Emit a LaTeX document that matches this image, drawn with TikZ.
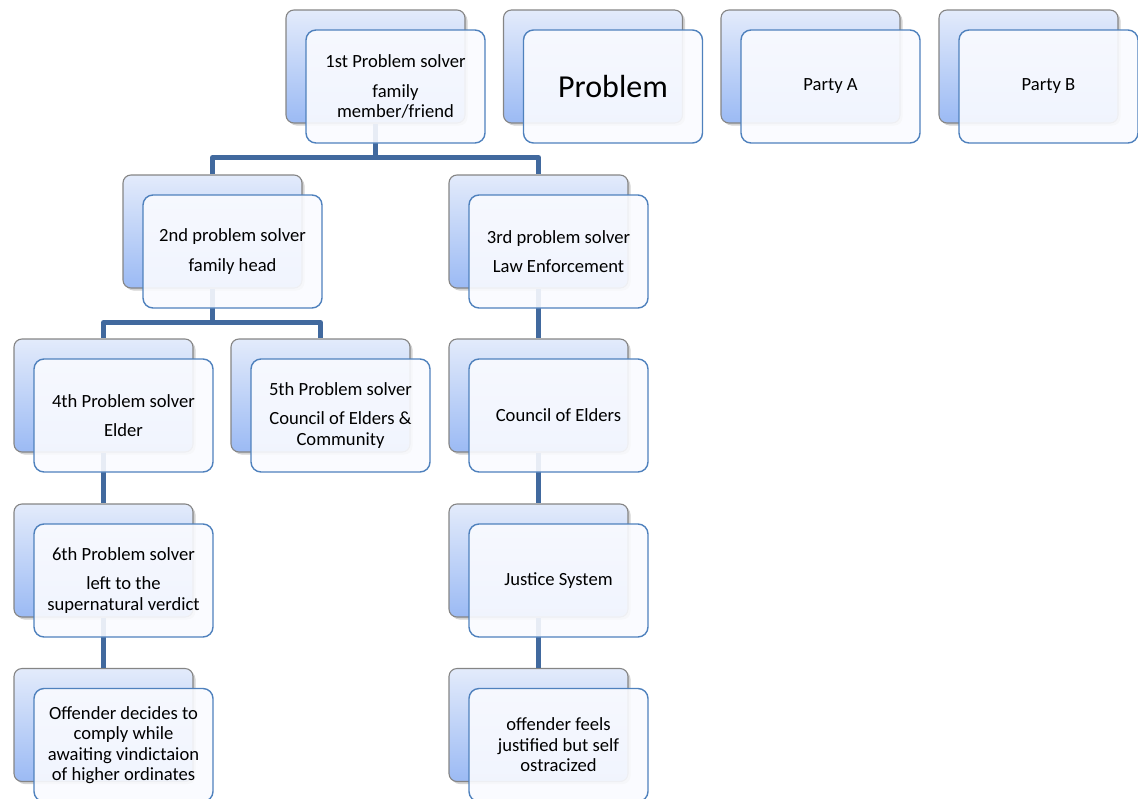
\documentclass[tikz,border=0pt]{standalone}
\usepackage{fontspec}
\setmainfont{Carlito}
\usepackage{tikz}
\usetikzlibrary{shadows}
\definecolor{ps-backtop}{HTML}{E3EBFB}
\definecolor{ps-backbot}{HTML}{9BBAF4}
\definecolor{ps-backline}{HTML}{858585}
\definecolor{ps-front}{HTML}{FAFBFF}
\definecolor{ps-frontline}{HTML}{4F81BD}
\definecolor{ps-link}{HTML}{41699E}

\begin{document}
\begin{tikzpicture}[x=1pt, y=-1pt, line join=round,
    backbox/.style={rectangle, rounded corners=8pt, minimum width=179pt, minimum height=113pt,
      draw=ps-backline, line width=1.1pt, top color=ps-backtop, bottom color=ps-backbot,
      drop shadow={shadow xshift=2.5pt, shadow yshift=-2.5pt, opacity=0.35}},
    frontbox/.style={rectangle, rounded corners=10pt, minimum width=179pt, minimum height=113pt,
      draw=ps-frontline, line width=1.4pt, fill=ps-front, fill opacity=0.9, text opacity=1,
      align=center, font=\fontsize{18.6}{20.5}\selectfont},
    link/.style={draw=ps-link, line width=5pt}]
  \useasboundingbox (0,0) rectangle (1138,798);
  % hintere kasser
  \node[backbox] (s1b) at (375.5,66.5) {};
  \node[backbox] (prb) at (593,66.5) {};
  \node[backbox] (pab) at (810.5,66.5) {};
  \node[backbox] (pbb) at (1028.5,66.5) {};
  \node[backbox] (s2b) at (212.5,231.5) {};
  \node[backbox] (s3b) at (538.5,231.5) {};
  \node[backbox] (s4b) at (103.5,395.5) {};
  \node[backbox] (s5b) at (320.5,395.5) {};
  \node[backbox] (coub) at (538.5,395.5) {};
  \node[backbox] (s6b) at (103.5,560.5) {};
  \node[backbox] (jusb) at (538.5,560.5) {};
  \node[backbox] (offlb) at (103.5,725) {};
  \node[backbox] (offrb) at (538.5,725) {};
  % forbindelser
  \draw[link] (s1b.south) -- ++(0,34) -| (s2b.north);
  \draw[link] (s1b.south) -- ++(0,34) -| (s3b.north);
  \draw[link] (s2b.south) -- ++(0,34) -| (s4b.north);
  \draw[link] (s2b.south) -- ++(0,34) -| (s5b.north);
  \draw[link] (s3b.south) -- (coub.north);
  \draw[link] (coub.south) -- (jusb.north);
  \draw[link] (jusb.south) -- (offrb.north);
  \draw[link] (s4b.south) -- (s6b.north);
  \draw[link] (s6b.south) -- (offlb.north);
  % forreste kasser
  \node[frontbox] (s1) at ([shift={(20,20)}]s1b.center) {1st Problem solver\\[9pt] family\\ member/friend};
  \node[frontbox, font=\fontsize{32}{36}\selectfont] (pr) at ([shift={(20,20)}]prb.center) {Problem};
  \node[frontbox] (pa) at ([shift={(20,20)}]pab.center) {Party A};
  \node[frontbox] (pb) at ([shift={(20,20)}]pbb.center) {Party B};
  \node[frontbox] (s2) at ([shift={(20,20)}]s2b.center) {2nd problem solver\\[9pt] family head};
  \node[frontbox] (s3) at ([shift={(20,20)}]s3b.center) {3rd problem solver\\[9pt] Law Enforcement};
  \node[frontbox] (s4) at ([shift={(20,20)}]s4b.center) {4th Problem solver\\[9pt] Elder};
  \node[frontbox] (s5) at ([shift={(20,20)}]s5b.center) {5th Problem solver\\[9pt] Council of Elders \&\\ Community};
  \node[frontbox] (cou) at ([shift={(20,20)}]coub.center) {Council of Elders};
  \node[frontbox] (s6) at ([shift={(20,20)}]s6b.center) {6th Problem solver\\[9pt] left to the\\ supernatural verdict};
  \node[frontbox] (jus) at ([shift={(20,20)}]jusb.center) {Justice System};
  \node[frontbox] (offl) at ([shift={(20,20)}]offlb.center) {Offender decides to\\ comply while\\ awaiting vindictaion\\ of higher ordinates};
  \node[frontbox] (offr) at ([shift={(20,20)}]offrb.center) {offender feels\\ justified but self\\ ostracized};
\end{tikzpicture}
\end{document}
